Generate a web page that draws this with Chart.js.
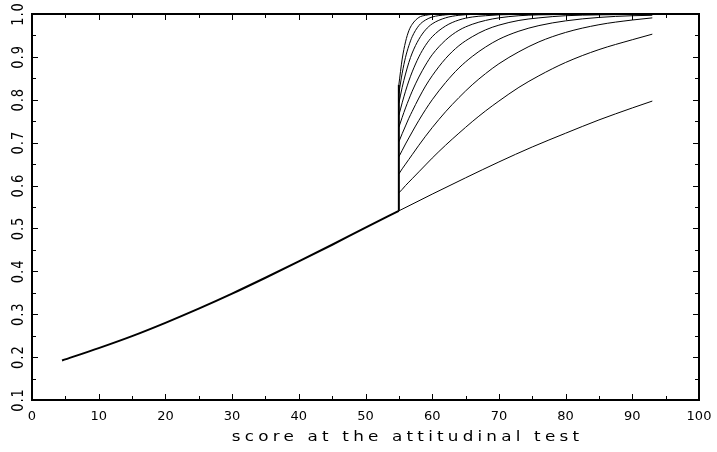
<!DOCTYPE html>
<html>
<head>
<meta charset="utf-8">
<script src="https://cdn.jsdelivr.net/npm/chart.js@4.4.1/dist/chart.umd.min.js"></script>
<style>
  html, body { margin: 0; padding: 0; background: #fff; }
  #wrap { width: 717px; height: 452px; }
</style>
</head>
<body>
<div id="wrap"><canvas id="chart"></canvas></div>
<script>
// shared lower part, all curves run together up to the cut-off at 55
const lowScores = [4.5, 10, 15, 20, 25, 30, 35, 40, 45, 50, 55];
const lowProb = [0.192, 0.221, 0.249, 0.280, 0.313, 0.348, 0.385, 0.423, 0.462, 0.502, 0.541];

// jump at the cut-off
const cutScores = [55, 55];
const cutProb = [0.541, 0.835];

// base curve after the cut-off
const baseScores = [55, 60, 65, 70, 75, 80, 85, 90, 93];
const baseProb = [0.541, 0.580, 0.618, 0.655, 0.690, 0.722, 0.753, 0.781, 0.797];

// curves starting from the jump, lowest to highest
const upperScores = [55, 55.5, 56, 56.5, 57, 58, 59, 60, 62, 64, 66, 68, 70, 73, 76, 80, 85, 90, 93];
const curve1 = [0.583, 0.591, 0.600, 0.608, 0.616, 0.632, 0.648, 0.664, 0.694, 0.722, 0.749, 0.774, 0.797, 0.829, 0.856, 0.887, 0.917, 0.940, 0.953];
const curve2 = [0.627, 0.639, 0.650, 0.661, 0.672, 0.694, 0.715, 0.735, 0.772, 0.805, 0.835, 0.861, 0.884, 0.912, 0.935, 0.957, 0.975, 0.986, 0.991];
const curve3 = [0.667, 0.682, 0.697, 0.711, 0.725, 0.752, 0.777, 0.800, 0.840, 0.874, 0.901, 0.923, 0.941, 0.960, 0.973, 0.984, 0.992, 0.996, 0.997];
const curve4 = [0.702, 0.721, 0.739, 0.757, 0.773, 0.804, 0.832, 0.856, 0.896, 0.926, 0.947, 0.963, 0.974, 0.985, 0.991, 0.996, 0.998, 0.999, 1.000];
const curve5 = [0.736, 0.759, 0.781, 0.801, 0.820, 0.853, 0.881, 0.905, 0.939, 0.962, 0.976, 0.985, 0.991, 0.996, 0.998, 0.999, 1.000, 1.000, 1.000];
const curve6 = [0.764, 0.793, 0.820, 0.844, 0.865, 0.900, 0.927, 0.947, 0.972, 0.986, 0.993, 0.996, 0.998, 0.999, 1.000, 1.000, 1.000, 1.000, 1.000];
const curve7 = [0.792, 0.829, 0.860, 0.887, 0.909, 0.941, 0.963, 0.977, 0.991, 0.997, 0.999, 1.000, 1.000, 1.000, 1.000, 1.000, 1.000, 1.000, 1.000];
const curve8 = [0.815, 0.862, 0.899, 0.926, 0.947, 0.973, 0.986, 0.993, 0.998, 1.000, 1.000, 1.000, 1.000, 1.000, 1.000, 1.000, 1.000, 1.000, 1.000];
const curve9 = [0.835, 0.895, 0.935, 0.961, 0.976, 0.992, 0.997, 0.999, 1.000, 1.000, 1.000, 1.000, 1.000, 1.000, 1.000, 1.000, 1.000, 1.000, 1.000];

const xTitle = 'score at the attitudinal test';
const FONT = '"DejaVu Sans", sans-serif';

const toPoints = (xs, ys) => xs.map((x, i) => ({ x: x, y: ys[i] }));

const line = (xs, ys, width) => ({
  data: toPoints(xs, ys),
  borderColor: '#000',
  borderWidth: width,
  pointRadius: 0,
  fill: false,
  cubicInterpolationMode: 'monotone',
});

const datasets = [
  line(lowScores, lowProb, 2),
  line(cutScores, cutProb, 2),
  line(baseScores, baseProb, 1),
];
[curve1, curve2, curve3, curve4, curve5, curve6, curve7, curve8, curve9].forEach(c => {
  datasets.push(line(upperScores, c, 1));
});

// frame, inward ticks on four sides, rotated y labels, axis title
const framePlugin = {
  id: 'frame',
  afterDraw(chart) {
    const { ctx, chartArea: a, scales: { x, y } } = chart;
    ctx.save();
    ctx.strokeStyle = '#000';
    ctx.lineWidth = 1;
    ctx.beginPath();
    const xVals = x.ticks.map(t => t.value);
    xVals.forEach((v, i) => {
      const px = Math.round(x.getPixelForValue(v)) + 0.5;
      ctx.moveTo(px, a.bottom); ctx.lineTo(px, a.bottom - 6);
      ctx.moveTo(px, a.top); ctx.lineTo(px, a.top + 6);
      if (i < xVals.length - 1) {
        const mx = Math.round(x.getPixelForValue((v + xVals[i + 1]) / 2)) + 0.5;
        ctx.moveTo(mx, a.bottom); ctx.lineTo(mx, a.bottom - 4);
        ctx.moveTo(mx, a.top); ctx.lineTo(mx, a.top + 4);
      }
    });
    const yVals = y.ticks.map(t => t.value);
    yVals.forEach((v, i) => {
      const py = Math.round(y.getPixelForValue(v)) + 0.5;
      ctx.moveTo(a.left, py); ctx.lineTo(a.left + 6, py);
      ctx.moveTo(a.right, py); ctx.lineTo(a.right - 6, py);
      if (i < yVals.length - 1) {
        const my = Math.round(y.getPixelForValue((v + yVals[i + 1]) / 2)) + 0.5;
        ctx.moveTo(a.left, my); ctx.lineTo(a.left + 4, my);
        ctx.moveTo(a.right, my); ctx.lineTo(a.right - 4, my);
      }
    });
    ctx.stroke();

    ctx.lineWidth = 2;
    ctx.strokeRect(a.left, a.top, a.right - a.left, a.bottom - a.top);

    // y tick labels, reading upwards
    ctx.fillStyle = '#000';
    ctx.font = '13px ' + FONT;
    ctx.letterSpacing = '1px';
    ctx.textAlign = 'center';
    ctx.textBaseline = 'middle';
    yVals.forEach(v => {
      ctx.save();
      ctx.translate(19, y.getPixelForValue(v));
      ctx.rotate(-Math.PI / 2);
      ctx.scale(1, 1.2);
      ctx.fillText(v.toFixed(1), 0, 0);
      ctx.restore();
    });

    // axis title, wide like the plotter lettering
    ctx.save();
    ctx.font = '14px ' + FONT;
    ctx.letterSpacing = '3.5px';
    ctx.textBaseline = 'alphabetic';
    ctx.translate(x.getPixelForValue(56) + 2, 441);
    ctx.scale(1.2, 1);
    ctx.fillText(xTitle, 0, 0);
    ctx.restore();
    ctx.restore();
  }
};

new Chart(document.getElementById('chart'), {
  type: 'line',
  data: { datasets: datasets },
  options: {
    responsive: true,
    maintainAspectRatio: false,
    animation: false,
    layout: { padding: { top: 14, right: 18, left: 0, bottom: 0 } },
    plugins: { legend: { display: false }, tooltip: { enabled: false } },
    scales: {
      x: {
        type: 'linear',
        min: 0,
        max: 100,
        grid: { display: false },
        border: { display: false },
        ticks: {
          stepSize: 10,
          maxRotation: 0,
          autoSkip: false,
          padding: 1,
          color: '#000',
          font: { family: FONT, size: 13 },
        },
        afterFit: s => { s.height = 52; },
      },
      y: {
        type: 'linear',
        min: 0.1,
        max: 1.0,
        grid: { display: false },
        border: { display: false },
        ticks: { stepSize: 0.1, display: false },
        afterFit: s => { s.width = 32; },
      },
    },
  },
  plugins: [framePlugin],
});
</script>
</body>
</html>
